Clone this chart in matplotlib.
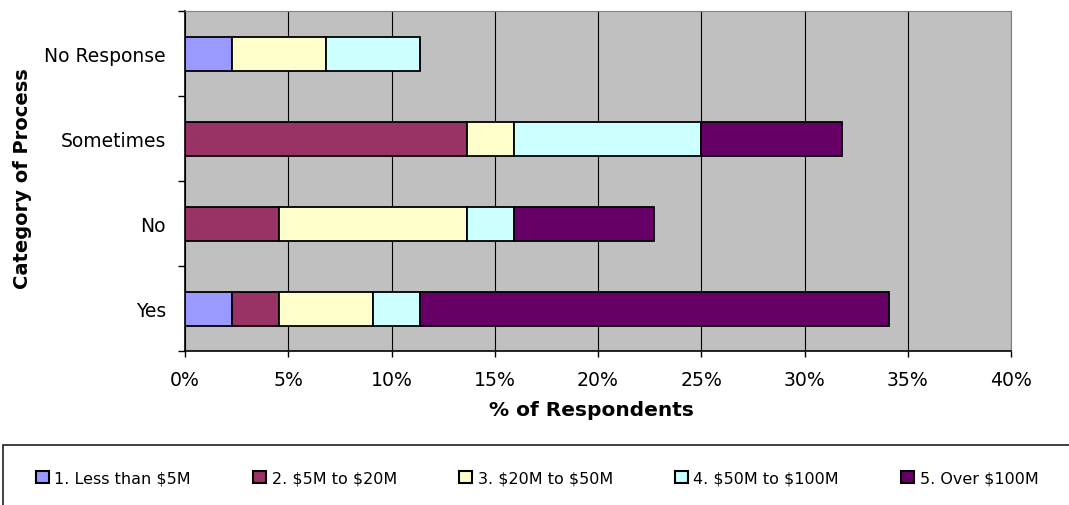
import matplotlib
matplotlib.use("Agg")
import matplotlib.pyplot as plt
from matplotlib.patches import Rectangle, Patch
from matplotlib.ticker import PercentFormatter, FixedLocator
import numpy as np

plt.rcParams['font.family'] = ['DejaVu Sans']
plt.rcParams['text.parse_math'] = False

categories = ["Yes", "No", "Sometimes", "No Response"]
series_names = ["1. Less than $5M", "2. $5M to $20M", "3. $20M to $50M",
                "4. $50M to $100M", "5. Over $100M"]
# percent of respondents (n = 44)
less_5m = [2.27, 0.0, 0.0, 2.27]
m5_20 = [2.27, 4.55, 13.64, 0.0]
m20_50 = [4.55, 9.09, 2.27, 4.55]
m50_100 = [2.27, 2.27, 9.09, 4.55]
over_100 = [22.73, 6.82, 6.82, 0.0]
series_values = [less_5m, m5_20, m20_50, m50_100, over_100]
colors = ["#9999FF", "#993366", "#FFFFCC", "#CCFFFF", "#660066"]
x_ticks = [0, 5, 10, 15, 20, 25, 30, 35, 40]

W, H = 1069, 506
PX = 72 / 100  # points per pixel at dpi 100
fig = plt.figure(figsize=(W / 100, H / 100), dpi=100)
ax = fig.add_axes([185 / W, 1 - 352 / H, (1011 - 185) / W, 340 / H])
ax.set_facecolor("#C0C0C0")

y = np.arange(len(categories))
left = np.zeros(len(categories))
for vals, col, name in zip(series_values, colors, series_names):
    vals = np.array(vals)
    ax.barh(y, vals, left=left, height=0.4, color=col, edgecolor="black",
            linewidth=1.3, label=name, zorder=3)
    left += vals

ax.set_xlim(0, 40)
ax.set_ylim(-0.5, 3.5)
ax.xaxis.set_major_locator(FixedLocator(x_ticks))
ax.xaxis.set_major_formatter(PercentFormatter(decimals=0))
ax.grid(axis="x", color="black", linewidth=0.8, zorder=1)
ax.set_axisbelow(True)

ax.set_yticks(y)
ax.set_yticklabels(categories)
ax.set_yticks(np.arange(-0.5, 4.0, 1.0), minor=True)
ax.tick_params(axis="y", which="major", length=0, pad=19 * PX, labelsize=13.5)
ax.tick_params(axis="y", which="minor", length=7 * PX, width=1, direction="out")
ax.tick_params(axis="x", which="major", length=6 * PX, width=1, direction="out",
               labelsize=13.6, pad=13 * PX)

for s in ["top", "right"]:
    ax.spines[s].set_color("#808080")
    ax.spines[s].set_linewidth(0.8)
ax.spines["left"].set_linewidth(1.2)
ax.spines["bottom"].set_linewidth(1.2)

fig.text(591 / W, 1 - 411 / H, "% of Respondents", fontsize=14.5,
         fontweight="bold", ha="center", va="center")
fig.text(23 / W, 1 - 179 / H, "Category of Process", rotation=90, fontsize=14,
         fontweight="bold", ha="center", va="center")

# legend box
rect = Rectangle((3 / W, -0.05), 1.2, (506 - 446) / H + 0.05,
                 transform=fig.transFigure, facecolor="white",
                 edgecolor="#202020", linewidth=1.2, clip_on=False)
fig.patches.append(rect)

handles = [Patch(facecolor=c, edgecolor="black", linewidth=1.5) for c in colors]
fig.legend(handles, series_names, loc="center left",
           bbox_to_anchor=(36 / W, 1 - 479 / H), ncol=5, frameon=False,
           fontsize=11.5, handlelength=0.8, handleheight=0.75,
           handletextpad=0.35, columnspacing=3.9, borderaxespad=0,
           borderpad=0)

fig.savefig("out.png", dpi=100)
